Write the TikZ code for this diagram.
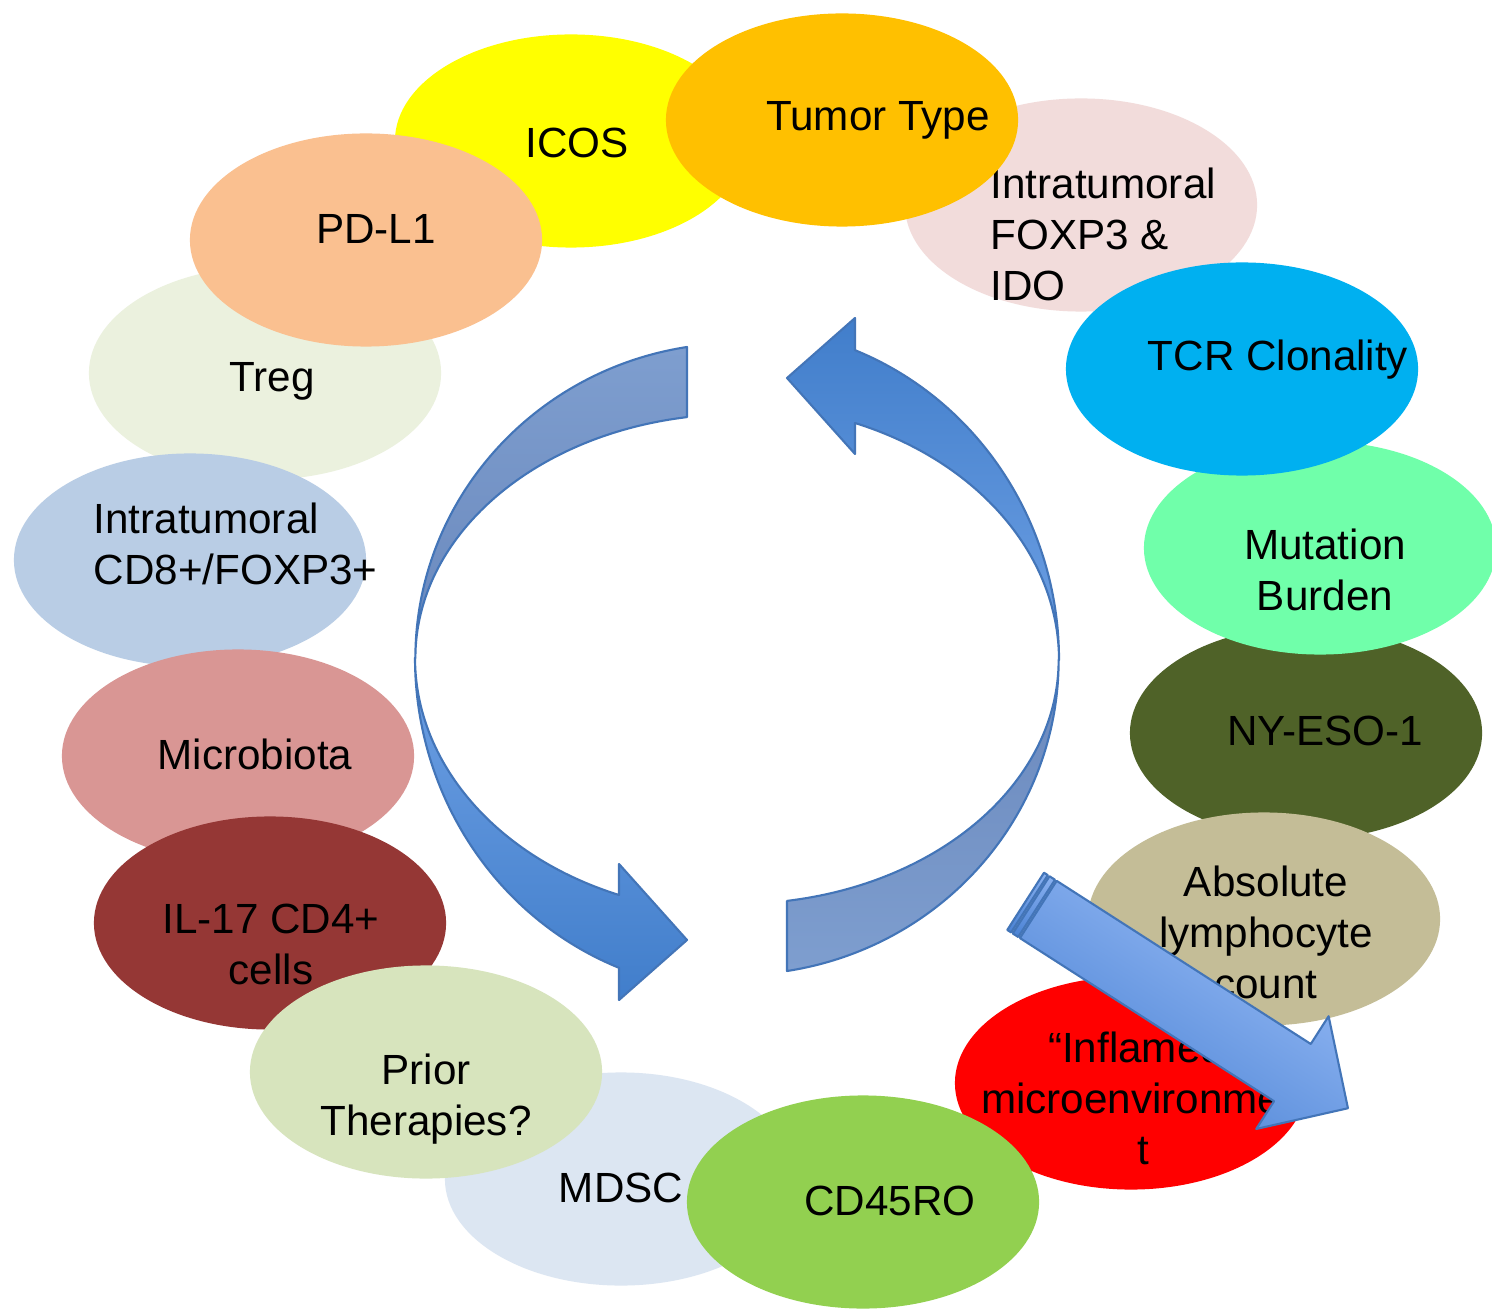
\documentclass[tikz,border=0pt]{standalone}
\usepackage{fontspec}
\setmainfont{Liberation Sans}
\usetikzlibrary{shapes.geometric}

\definecolor{icosc}{HTML}{FFFF00}
\definecolor{tumorc}{HTML}{FFC000}
\definecolor{foxpc}{HTML}{F2DCDB}
\definecolor{tcrc}{HTML}{00B0F0}
\definecolor{mutc}{HTML}{70FFAA}
\definecolor{nyesoc}{HTML}{4F6228}
\definecolor{absc}{HTML}{C4BD97}
\definecolor{inflc}{HTML}{FF0000}
\definecolor{cdfortyc}{HTML}{92D050}
\definecolor{mdscc}{HTML}{DCE6F2}
\definecolor{priorc}{HTML}{D7E4BD}
\definecolor{ilc}{HTML}{953735}
\definecolor{microc}{HTML}{D99694}
\definecolor{cdeightc}{HTML}{B9CDE5}
\definecolor{tregc}{HTML}{EBF1DE}
\definecolor{pdlc}{HTML}{FAC090}
\definecolor{arrowline}{HTML}{4375B8}
\definecolor{tailtop}{HTML}{7E9ECF}
\definecolor{tailbot}{HTML}{6A88BC}
\definecolor{headtop}{HTML}{6EA0E4}
\definecolor{headbot}{HTML}{417ECB}
\definecolor{bigtop}{HTML}{9ABDF7}
\definecolor{bigbot}{HTML}{4A82D4}

\tikzstyle{blob}=[ellipse, minimum width=3.52cm, minimum height=2.13cm, inner sep=0pt]
\tikzstyle{lbl}=[font=\fontsize{12}{14.5}\selectfont, align=center, inner sep=0pt]
\tikzstyle{band}=[draw=arrowline, line width=0.6pt, line join=round]

\begin{document}
\begin{tikzpicture}[x=0.01cm, y=-0.01cm]
    \useasboundingbox (0,0) rectangle (1492,1310);
    \fill[white] (0,0) rectangle (1492,1310);

    % ring of factors, back to front
    \node[blob,fill=icosc] (icos) at (571,141) {};
    \node[lbl] (icosl) at (577,143) {ICOS};
    \node[blob,fill=foxpc] (foxp) at (1081,205) {};
    \node[lbl,align=left,anchor=west] (foxpl) at (990,234) {Intratumoral\\FOXP3 \&\\IDO};
    \node[blob,fill=nyesoc] (nyeso) at (1306,733) {};
    \node[lbl] (nyesol) at (1325,731) {NY-ESO-1};
    \node[blob,fill=inflc] (infl) at (1131,1083) {};
    \node[lbl] (infll) at (1143,1098) {“Inflamed”\\microenvironmen\\t};
    \node[blob,fill=mdscc] (mdsc) at (621,1179) {};
    \node[lbl] (mdscl) at (621,1188) {MDSC};
    \node[blob,fill=tregc] (treg) at (265,373) {};
    \node[lbl] (tregl) at (272,381) {Treg};
    \node[blob,fill=cdeightc] (cdeight) at (190,560) {};
    \node[lbl,align=left,anchor=west] (cdeightl) at (93,544) {Intratumoral\\CD8+/FOXP3+};
    \node[blob,fill=microc] (micro) at (238,756) {};
    \node[lbl] (microl) at (255,754) {Microbiota};
    \node[blob,fill=ilc] (il) at (270,923) {};
    \node[lbl] (ill) at (271,944) {IL-17 CD4+\\cells};
    \node[blob,fill=priorc] (prior) at (426,1072) {};
    \node[lbl] (priorl) at (426,1099) {Prior\\Therapies?};
    \node[blob,fill=cdfortyc] (cdforty) at (863,1202) {};
    \node[lbl] (cdfortyl) at (890,1201) {CD45RO};
    \node[blob,fill=absc] (abs) at (1264,919) {};
    \node[lbl] (absl) at (1266,932) {Absolute\\lymphocyte\\count};
    \node[blob,fill=mutc] (mut) at (1320,548) {};
    \node[lbl] (mutl) at (1325,570) {Mutation\\Burden};
    \node[blob,fill=tcrc] (tcr) at (1242,369) {};
    \node[lbl] (tcrl) at (1278,360) {TCR Clonality};
    \node[blob,fill=tumorc] (tumor) at (842,120) {};
    \node[lbl] (tumorl) at (878,120) {Tumor Type};
    \node[blob,fill=pdlc] (pdl) at (366,240) {};
    \node[lbl] (pdll) at (376,229) {PD-L1};

    % left circular arrow
    \shade[band, top color=tailtop, bottom color=tailbot] (687,347)
        arc[start angle=261, end angle=180, x radius=322, y radius=315]
        arc[start angle=180, end angle=261, x radius=322, y radius=244] -- cycle;
    \shade[band, top color=headtop, bottom color=headbot] (415,658)
        arc[start angle=180, end angle=111.5, x radius=322, y radius=333]
        -- (619,1000) -- (687,940) -- (619,864) -- (619,895)
        arc[start angle=111.5, end angle=180, x radius=322, y radius=255] -- cycle;

    % right circular arrow
    \shade[band, top color=tailbot, bottom color=tailtop] (787,971)
        arc[start angle=81, end angle=0, x radius=322, y radius=315]
        arc[start angle=0, end angle=81, x radius=322, y radius=244] -- cycle;
    \shade[band, top color=headbot, bottom color=headtop] (1059,660)
        arc[start angle=0, end angle=-68.5, x radius=322, y radius=333]
        -- (855,318) -- (787,378) -- (855,454) -- (855,423)
        arc[start angle=-68.5, end angle=0, x radius=322, y radius=255] -- cycle;

    % striped arrow across the bottom right
    \begin{scope}[shift={(1060,883)}, rotate=-32.7]
        \fill[gray!55] (-19,0) rectangle (-4,68);
        \shade[band, top color=bigtop!80!bigbot, bottom color=bigbot] (-19,0) rectangle (-14.5,68);
        \shade[band, top color=bigtop!80!bigbot, bottom color=bigbot] (-12.5,0) rectangle (-6,68);
        \shade[band, top color=bigtop, bottom color=bigbot, shading angle=-32.7]
            (-4,0) -- (298,0) -- (298,-33) -- (364,34) -- (298,101) -- (298,68) -- (-4,68) -- cycle;
    \end{scope}
\end{tikzpicture}
\end{document}
